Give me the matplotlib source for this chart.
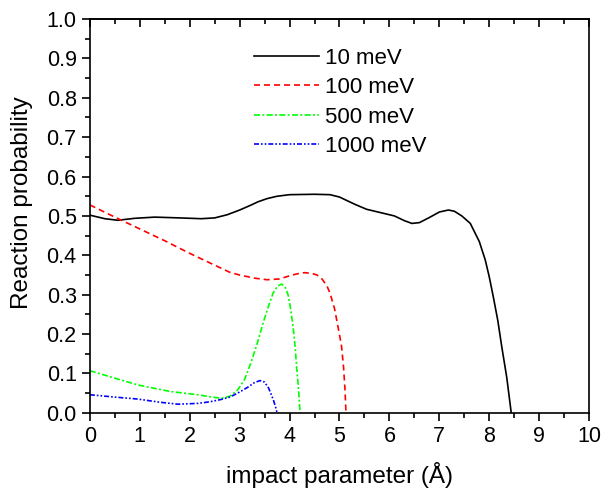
import numpy as np
import matplotlib
matplotlib.use("Agg")
import matplotlib.pyplot as plt
from matplotlib.ticker import MultipleLocator, FormatStrFormatter

# ─────────────────────────────────────────────
# Data
# ─────────────────────────────────────────────

labels = ["10 meV", "100 meV", "500 meV", "1000 meV"]

x_10 = [0, 0.3, 0.56, 0.9, 1.3, 1.8, 2.23, 2.5, 2.75, 3.0, 3.2, 3.37, 3.55, 3.75,
        4.0, 4.5, 4.81, 5.0, 5.15, 5.3, 5.54, 5.87, 6.1, 6.3, 6.45, 6.6, 6.8,
        7.0, 7.18, 7.3, 7.45, 7.62, 7.8, 7.92, 8.0, 8.08, 8.17, 8.25, 8.35, 8.44]
y_10 = [0.502, 0.493, 0.489, 0.494, 0.497, 0.495, 0.493, 0.495, 0.503, 0.515,
        0.526, 0.536, 0.544, 0.550, 0.554, 0.555, 0.554, 0.548, 0.539, 0.530,
        0.517, 0.507, 0.500, 0.488, 0.481, 0.483, 0.496, 0.510, 0.515, 0.512,
        0.500, 0.481, 0.435, 0.388, 0.345, 0.295, 0.235, 0.168, 0.09, 0.0]

x_100 = [0, 0.5, 1.0, 1.5, 2.0, 2.5, 2.8, 3.0, 3.3, 3.55, 3.8, 4.0, 4.15, 4.3,
         4.45, 4.55, 4.65, 4.75, 4.81, 4.9, 4.97, 5.04, 5.08, 5.11, 5.13]
y_100 = [0.528, 0.497, 0.467, 0.437, 0.405, 0.375, 0.357, 0.350, 0.342, 0.338,
         0.340, 0.348, 0.353, 0.356, 0.354, 0.350, 0.340, 0.322, 0.304, 0.265,
         0.219, 0.17, 0.118, 0.06, 0.0]

x_500 = [0, 0.5, 0.96, 1.3, 1.62, 2.16, 2.4, 2.63, 2.8, 2.96, 3.1, 3.22, 3.35,
         3.47, 3.57, 3.67, 3.76, 3.84, 3.91, 3.97, 4.02, 4.07, 4.11, 4.14, 4.18, 4.21]
y_500 = [0.107, 0.088, 0.071, 0.062, 0.054, 0.046, 0.041, 0.037, 0.042, 0.058,
         0.085, 0.125, 0.175, 0.228, 0.268, 0.304, 0.322, 0.327, 0.320, 0.300,
         0.265, 0.219, 0.17, 0.118, 0.06, 0.0]

x_1000 = [0, 0.5, 0.96, 1.4, 1.76, 2.16, 2.4, 2.63, 2.8, 2.96, 3.15, 3.3, 3.41,
          3.5, 3.58, 3.67, 3.72, 3.75]
y_1000 = [0.046, 0.040, 0.035, 0.027, 0.022, 0.024, 0.028, 0.034, 0.040, 0.050,
          0.064, 0.077, 0.082, 0.078, 0.063, 0.035, 0.015, 0.0]

# ─────────────────────────────────────────────
# Plot
# ─────────────────────────────────────────────

plt.rcParams['font.family'] = ['Liberation Sans', 'DejaVu Sans']

fig = plt.figure(figsize=(6.03, 4.88), dpi=100)
ax = fig.add_axes([0.149, 0.154, 0.828, 0.807])

lw = 1.2
ax.plot(x_10, y_10, color='black', lw=lw, label=labels[0])
ax.plot(x_100, y_100, color='#ff0000', lw=lw, dashes=(3.6, 2.4), label=labels[1])
ax.plot(x_500, y_500, color='#00ff00', lw=lw, dashes=(3.6, 1.4, 1.2, 1.4), label=labels[2])
ax.plot(x_1000, y_1000, color='#0000ff', lw=lw,
        dashes=(3.0, 1.2, 1.0, 1.2, 1.0, 1.2), label=labels[3])

ax.set_xlim(0, 10)
ax.set_ylim(0, 1.0)
ax.xaxis.set_major_locator(MultipleLocator(1))
ax.xaxis.set_minor_locator(MultipleLocator(0.5))
ax.yaxis.set_major_locator(MultipleLocator(0.1))
ax.yaxis.set_minor_locator(MultipleLocator(0.05))
ax.xaxis.set_major_formatter(FormatStrFormatter('%d'))
ax.yaxis.set_major_formatter(FormatStrFormatter('%.1f'))

ax.tick_params(which='both', direction='out', width=1.2, labelsize=15.5)
ax.tick_params(which='major', length=6)
ax.tick_params(which='minor', length=3.5)
for s in ax.spines.values():
    s.set_linewidth(1.2)

# top ticks point inward, no labels
top = ax.secondary_xaxis('top')
top.xaxis.set_major_locator(MultipleLocator(1))
top.xaxis.set_minor_locator(MultipleLocator(0.5))
top.tick_params(which='both', direction='in', width=1.2, labeltop=False)
top.tick_params(which='major', length=6)
top.tick_params(which='minor', length=3.5)
top.spines['top'].set_linewidth(1.2)

ax.set_xlabel("impact parameter (Å)", fontsize=17.5, labelpad=11)
ax.set_ylabel("Reaction probability", fontsize=17.5)
ax.yaxis.set_label_coords(-0.114, 0.535)

ax.legend(loc='upper left', bbox_to_anchor=(0.329, 0.927), frameon=False,
          fontsize=16, handlelength=2.9, handletextpad=0.3, labelspacing=0.38,
          borderpad=0, borderaxespad=0)

fig.savefig("out.png", dpi=100)
